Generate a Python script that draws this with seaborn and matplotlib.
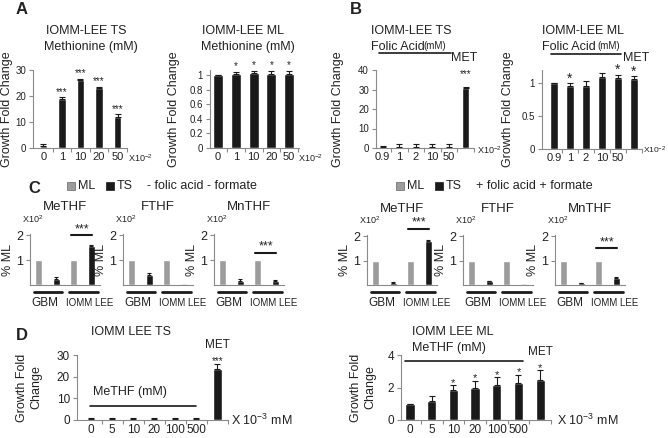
import numpy as np
import pandas as pd
import matplotlib.pyplot as plt
import matplotlib.transforms as mtransforms
from matplotlib.patches import Rectangle
import seaborn as sns

sns.set_style('ticks')
plt.rcParams['font.family'] = ['Liberation Sans', 'DejaVu Sans']
plt.rcParams['mathtext.default'] = 'regular'

W, H = 668, 438
BLACK = '#1a1a1a'
GRAY = '#9c9c9c'
AXC = '#8a8a8a'
TXT = '#222222'

# ---- panel A : methionine
a_labels = ['0', '1', '10', '20', '50']
a_ts_vals = [0.8, 19, 26, 23, 12]
a_ts_err = [0.7, 0.6, 0.7, 0.6, 1.1]
a_ts_sig = ['', '***', '***', '***', '***']
a_ml_vals = [1.0, 1.02, 1.03, 1.02, 1.02]
a_ml_err = [0.0, 0.02, 0.03, 0.03, 0.03]
a_ml_sig = ['', '*', '*', '*', '*']

# ---- panel B : folic acid
b_labels = ['0.9', '1', '2', '10', '50', 'MET']
b_ts_vals = [0.5, 0.6, 0.6, 0.6, 0.6, 31]
b_ts_err = [0.5, 1.3, 1.3, 1.3, 1.3, 0.3]
b_ts_sig = ['', '', '', '', '', '***']
b_ml_vals = [1.0, 0.96, 0.96, 1.10, 1.08, 1.06]
b_ml_err = [0.0, 0.04, 0.08, 0.05, 0.05, 0.05]
b_ml_sig = ['', '*', '', '', '*', '*']

# ---- panel C : % of ML (x10^2)
c_metab = ['MeTHF', 'FTHF', 'MnTHF']
c_groups = ['GBM', 'IOMM LEE']
c_ml = [1.0, 1.0]
c_minus_ts_gbm = [0.25, 0.40, 0.18]
c_minus_ts_iomm = [1.55, 0.0, 0.18]
c_minus_err_gbm = [0.07, 0.08, 0.08]
c_minus_err_iomm = [0.05, 0.0, 0.03]
c_minus_sig = [2.0, None, 1.3]
c_plus_ts_gbm = [0.10, 0.15, 0.07]
c_plus_ts_iomm = [1.80, 0.0, 0.30]
c_plus_err_gbm = [0.03, 0.03, 0.02]
c_plus_err_iomm = [0.05, 0.0, 0.03]
c_plus_sig = [2.3, None, 1.5]

# ---- panel D : MeTHF
d_labels = ['0', '5', '10', '20', '100', '500', 'MET']
d_ts_vals = [0.6, 0.6, 0.6, 0.6, 0.6, 0.6, 23.5]
d_ts_err = [0.3, 0.3, 0.3, 0.3, 0.3, 0.3, 2.4]
d_ts_sig = ['', '', '', '', '', '', '***']
d_ml_vals = [1.0, 1.2, 1.85, 2.0, 2.15, 2.3, 2.45]
d_ml_err = [0.0, 0.25, 0.3, 0.42, 0.5, 0.5, 0.6]
d_ml_sig = ['', '', '*', '*', '*', '*', '*']

fig = plt.figure(figsize=(W / 100, H / 100), dpi=100)


def px_ax(l, t, r, b):
    return fig.add_axes([l / W, 1 - b / H, (r - l) / W, (b - t) / H])


def ftext(x, y, s, **kw):
    kw.setdefault('ha', 'center')
    kw.setdefault('va', 'center')
    kw.setdefault('color', TXT)
    fig.text(x / W, 1 - y / H, s, **kw)


def star(ax, x, y, s, fs):
    # put the asterisk glyphs centred on y
    tr = ax.transData + mtransforms.ScaledTranslation(0, -0.58 * fs / 72, fig.dpi_scale_trans)
    ax.text(x, y, s, ha='center', va='baseline', fontsize=fs, color=TXT,
            transform=tr, clip_on=False)


def base_style(ax, xlim, ylim, yticks, yfs):
    sns.despine(ax=ax)
    ax.set_xlim(xlim)
    ax.set_ylim(ylim)
    ax.set_yticks(yticks)
    for sp in ['left', 'bottom']:
        ax.spines[sp].set_color(AXC)
        ax.spines[sp].set_linewidth(0.8)
    ax.tick_params(axis='y', length=3, width=0.8, color=AXC, labelsize=yfs, pad=2, labelcolor=TXT)
    ax.set_xlabel('')
    ax.set_ylabel('')


def growth(ax, labels, vals, errs, sig, width, xlim, ylim, yticks, yfs, xfs,
           star_fs, star_off, ylab='Growth Fold Change', ylab_x=-0.3):
    df = pd.DataFrame({'dose': labels, 'fold': vals})
    sns.barplot(data=df, x='dose', y='fold', color=BLACK, saturation=1, width=width,
                errorbar=None, ax=ax)
    pos = np.arange(len(vals))
    ax.errorbar(pos, vals, yerr=[np.zeros(len(vals)), errs], fmt='none', ecolor=BLACK,
                elinewidth=0.8, capsize=2, capthick=0.8)
    for p, v, e, s in zip(pos, vals, errs, sig):
        if s:
            star(ax, p, v + e + star_off, s, star_fs)
    base_style(ax, xlim, ylim, yticks, yfs)
    ticklabels = [l if l != 'MET' else '' for l in labels]
    ax.set_xticks(pos, labels=ticklabels)
    ax.set_xticks(np.arange(len(vals)) + 0.5, minor=True)
    ax.tick_params(axis='x', which='major', length=0, labelsize=xfs, pad=3, labelcolor=TXT)
    ax.tick_params(axis='x', which='minor', length=3, width=0.8, color=AXC)
    ax.set_ylabel(ylab, fontsize=9, color=TXT)
    ax.yaxis.set_label_coords(ylab_x, 0.5)


# ================= A =================
ftext(22, 9, 'A', fontsize=12, fontweight='bold')
ax = px_ax(33, 70, 127, 148)
growth(ax, a_labels, a_ts_vals, a_ts_err, a_ts_sig, 0.4, (-0.55, 4.5), (0, 30),
       [0, 10, 20, 30], 7, 8, 7, 3.0, ylab_x=-20 / 94)
ftext(86, 31, 'IOMM-LEE TS', fontsize=9)
ftext(91, 47, 'Methionine (mM)', fontsize=9)
ftext(128, 158, r'X10$^{-2}$', fontsize=6.5, ha='left')

ax = px_ax(210, 70, 299, 148)
growth(ax, a_labels, a_ml_vals, a_ml_err, a_ml_sig, 0.56, (-0.45, 4.55), (0, 1.07),
       [0, 0.2, 0.4, 0.6, 0.8, 1], 7, 8, 7, 0.12, ylab_x=-30 / 89)
ax.set_yticklabels(['0', '0.2', '0.4', '0.6', '0.8', '1'])
ftext(243, 31, 'IOMM-LEE ML', fontsize=9)
ftext(248, 47, 'Methionine (mM)', fontsize=9)
ftext(298, 158, r'X10$^{-2}$', fontsize=6.5, ha='left')

# ================= B =================
ftext(356, 9, 'B', fontsize=12, fontweight='bold')
ax = px_ax(376, 70, 474, 148)
growth(ax, b_labels, b_ts_vals, b_ts_err, b_ts_sig, 0.45, (-0.4, 5.5), (0, 40),
       [0, 10, 20, 30, 40], 7, 8, 7, 8.0, ylab_x=-32 / 98)
ax.plot([-0.2, 4.1], [48.7, 48.7], color=BLACK, lw=1.2, clip_on=False)
ftext(371, 31, 'IOMM-LEE TS', fontsize=9, ha='left')
ftext(371, 47, 'Folic Acid', fontsize=9, ha='left')
ftext(423, 46, '(mM)', fontsize=7, ha='left')
ftext(464, 58, 'MET', fontsize=9)
ftext(477, 150, r'X10$^{-2}$', fontsize=6.5, ha='left')

ax = px_ax(542, 70, 642, 149)
growth(ax, b_labels, b_ml_vals, b_ml_err, b_ml_sig, 0.45, (-0.75, 5.5), (0, 1.2),
       [0, 0.5, 1], 7, 8, 10, 0.13, ylab_x=-28 / 100)
ax.set_yticklabels(['0', '0.5', '1'])
ax.plot([-0.2, 4.2], [1.45, 1.45], color=BLACK, lw=1.2, clip_on=False)
ftext(542, 31, 'IOMM-LEE ML', fontsize=9, ha='left')
ftext(542, 47, 'Folic Acid', fontsize=9, ha='left')
ftext(597, 46, '(mM)', fontsize=7, ha='left')
ftext(636, 58, 'MET', fontsize=9)
ftext(643, 150, r'X10$^{-2}$', fontsize=6, ha='left')


# ================= C =================
def c_panel(ax, title, ts_gbm, ts_iomm, err_gbm, err_iomm, sig_y):
    cats = ['GBM ML', 'GBM TS', 'IOMM ML', 'IOMM TS']
    vals = [c_ml[0], ts_gbm, c_ml[1], ts_iomm]
    sns.barplot(x=cats, y=vals, hue=cats, palette=[GRAY, BLACK, GRAY, BLACK],
                width=0.38, saturation=1, legend=False, errorbar=None, ax=ax)
    ax.errorbar([1, 3], [ts_gbm, ts_iomm], yerr=[[0, 0], [err_gbm, err_iomm]],
                fmt='none', ecolor=BLACK, elinewidth=0.8, capsize=1.5, capthick=0.8)
    base_style(ax, (-0.5, 3.5), (0, 2.05), [1, 2], 9)
    ax.set_xticks([])
    tr = mtransforms.blended_transform_factory(ax.transData, ax.transAxes)
    ax.plot([-0.3, 1.3], [-0.14, -0.14], color=BLACK, lw=2, transform=tr, clip_on=False)
    ax.plot([1.7, 3.4], [-0.14, -0.14], color=BLACK, lw=2, transform=tr, clip_on=False)
    ax.text(0.35, -0.36, c_groups[0], transform=tr, ha='center', va='center', fontsize=8.5, color=TXT)
    ax.text(2.9, -0.36, c_groups[1], transform=tr, ha='center', va='center', fontsize=7, color=TXT)
    ax.text(0.5, 1 + 27 / 51, title, transform=ax.transAxes, ha='center', va='center',
            fontsize=9.5, color=TXT)
    ax.text(-0.12, 1 + 15 / 51, r'X10$^2$', transform=ax.transAxes, ha='left', va='center',
            fontsize=6.5, color=TXT)
    ax.set_ylabel('% ML', fontsize=9, color=TXT)
    ax.yaxis.set_label_coords(-16 / 70, 0.5)
    if sig_y is not None:
        ax.plot([1.85, 3.05], [sig_y, sig_y], color=BLACK, lw=1.5, clip_on=False)
        star(ax, 2.45, sig_y + 0.42, '***', 9)


ftext(34, 189, 'C', fontsize=12, fontweight='bold')
c_left = [30, 123, 214]
for i, m in enumerate(c_metab):
    ax = px_ax(c_left[i], 234, c_left[i] + 70, 285)
    c_panel(ax, m, c_minus_ts_gbm[i], c_minus_ts_iomm[i], c_minus_err_gbm[i],
            c_minus_err_iomm[i], c_minus_sig[i])
c_left = [367, 463, 555]
for i, m in enumerate(c_metab):
    ax = px_ax(c_left[i], 235, c_left[i] + 70, 285)
    c_panel(ax, m, c_plus_ts_gbm[i], c_plus_ts_iomm[i], c_plus_err_gbm[i],
            c_plus_err_iomm[i], c_plus_sig[i])

# legends of C
for x0, cond in [(67, '- folic acid - formate'), (396, '+ folic acid + formate')]:
    fig.add_artist(Rectangle((x0 / W, 1 - 190 / H), 8 / W, 8 / H, transform=fig.transFigure,
                             facecolor=GRAY, edgecolor='#666666', lw=0.5))
    ftext(x0 + 11, 186, 'ML', fontsize=9, ha='left')
    fig.add_artist(Rectangle(((x0 + 39) / W, 1 - 190 / H), 8 / W, 8 / H, transform=fig.transFigure,
                             facecolor=BLACK, edgecolor=BLACK, lw=0.5))
    ftext(x0 + 50, 186, 'TS', fontsize=9, ha='left')
    ftext(x0 + 80, 186, cond, fontsize=9, ha='left')

# ================= D =================
ftext(22, 335, 'D', fontsize=12, fontweight='bold')
ax = px_ax(77, 355, 228, 420)
growth(ax, d_labels, d_ts_vals, d_ts_err, d_ts_sig, 0.45, (-0.67, 6.5), (0, 30),
       [0, 10, 20, 30], 8.5, 8.5, 7, 2.4, ylab='Growth Fold\nChange', ylab_x=-35 / 151)
ax.plot([-0.05, 5.0], [6.5, 6.5], color=BLACK, lw=1.2, clip_on=False)
ax.text(0.1, 12.9, 'MeTHF (mM)', ha='left', va='center', fontsize=9, color=TXT)
ax.text(6, 34.6, 'MET', ha='center', va='center', fontsize=8.5, color=TXT, clip_on=False)
ftext(131, 332, 'IOMM LEE TS', fontsize=9)
ftext(231, 420, r'X 10$^{-3}$ mM', fontsize=9, ha='left')

ax = px_ax(401, 355, 551, 420)
growth(ax, d_labels, d_ml_vals, d_ml_err, d_ml_sig, 0.43, (-0.42, 6.5), (0, 4),
       [0, 2, 4], 8.5, 8.5, 8, 0.35, ylab='Growth Fold\nChange', ylab_x=-25 / 150)
ax.plot([-0.25, 5.2], [3.65, 3.65], color=BLACK, lw=1.2, clip_on=False)
ax.text(6, 4.18, 'MET', ha='center', va='center', fontsize=8.5, color=TXT, clip_on=False)
ftext(412, 332, 'IOMM LEE ML', fontsize=9, ha='left')
ftext(412, 348, 'MeTHF (mM)', fontsize=9, ha='left')
ftext(557, 420, r'X 10$^{-3}$ mM', fontsize=9, ha='left')

fig.savefig('out.png', dpi=100)
